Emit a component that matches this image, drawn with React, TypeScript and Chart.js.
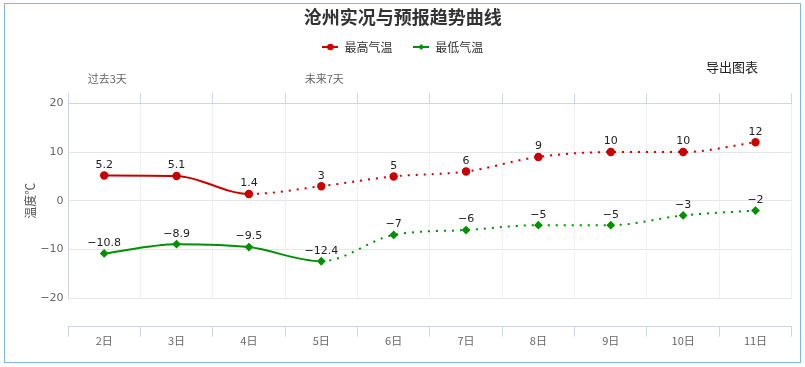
import React, { useEffect, useRef } from "react";
import { Chart, registerables } from "chart.js";

Chart.register(...registerables);

const categories = ["2日", "3日", "4日", "5日", "6日", "7日", "8日", "9日", "10日", "11日"];
const topLabels = ["过去3天", "", "", "未来7天", "", "", "", "", "", ""];
const highTemps = [5.2, 5.1, 1.4, 3, 5, 6, 9, 10, 10, 12];
const lowTemps = [-10.8, -8.9, -9.5, -12.4, -7, -6, -5, -5, -3, -2];
const highObservedCount = 3;
const lowObservedCount = 4;
const yTicks = [-20, -10, 0, 10, 20];

const RED = "#c80000";
const GREEN = "#009000";
const FONT = '"DejaVu Sans", "Noto Sans CJK SC", sans-serif';
const CJK = '"Noto Sans CJK SC", "DejaVu Sans", sans-serif';

const fmt = (v: number) => String(v).replace("-", "\u2212");

function makeIcon(color: string, diamond: boolean) {
  const c = document.createElement("canvas");
  c.width = 16;
  c.height = 10;
  const g = c.getContext("2d")!;
  g.strokeStyle = color;
  g.fillStyle = color;
  g.lineWidth = 2;
  g.beginPath();
  g.moveTo(0, 5);
  g.lineTo(16, 5);
  g.stroke();
  g.beginPath();
  if (diamond) {
    g.moveTo(8, 2);
    g.lineTo(11, 5);
    g.lineTo(8, 8);
    g.lineTo(5, 5);
    g.closePath();
  } else {
    g.arc(8, 5, 3.3, 0, Math.PI * 2);
  }
  g.fill();
  return c;
}

export default function App() {
  const ref = useRef<HTMLCanvasElement | null>(null);
  useEffect(() => {
    const icons = [makeIcon(RED, false), makeIcon(GREEN, true)];
    const framePlugin = {
      id: "frame",
      beforeDraw(chart: any) {
        const { ctx } = chart;
        ctx.save();
        ctx.fillStyle = "#fff";
        ctx.fillRect(0, 0, chart.width, chart.height);
        ctx.strokeStyle = "#85b5e6";
        ctx.lineWidth = 1;
        ctx.strokeRect(4.5, 3.5, 796, 359);
        ctx.fillStyle = "#222";
        ctx.font = "13px " + CJK;
        ctx.textAlign = "center";
        ctx.textBaseline = "middle";
        ctx.fillText("导出图表", 732, 67);
        ctx.restore();
      },
    };
    const labelPlugin = {
      id: "valueLabels",
      afterDatasetsDraw(chart: any) {
        const { ctx } = chart;
        ctx.save();
        ctx.font = "11px " + FONT;
        ctx.fillStyle = "#222";
        ctx.textAlign = "center";
        ctx.textBaseline = "middle";
        chart.data.datasets.forEach((ds: any, di: number) => {
          const meta = chart.getDatasetMeta(di);
          meta.data.forEach((pt: any, i: number) => {
            ctx.fillText(fmt(ds.data[i]), pt.x, pt.y - 10.5);
          });
        });
        ctx.restore();
      },
    };
    const chart = new Chart(ref.current!, {
      type: "line",
      data: {
        labels: categories,
        datasets: [
          {
            label: "最高气温",
            data: highTemps,
            borderColor: RED,
            backgroundColor: RED,
            borderWidth: 2,
            pointRadius: 3.2,
            pointHoverRadius: 3.2,
            pointStyle: "circle",
            cubicInterpolationMode: "monotone",
            segment: {
              borderDash: (c: any) => (c.p0DataIndex >= highObservedCount - 1 ? [2, 6] : undefined),
            },
          },
          {
            label: "最低气温",
            data: lowTemps,
            borderColor: GREEN,
            backgroundColor: GREEN,
            borderWidth: 2,
            pointRadius: 3,
            pointHoverRadius: 3,
            pointStyle: "rectRot",
            cubicInterpolationMode: "monotone",
            segment: {
              borderDash: (c: any) => (c.p0DataIndex >= lowObservedCount - 1 ? [2, 6] : undefined),
            },
          },
        ],
      },
      options: {
        responsive: false,
        animation: false,
        devicePixelRatio: 1,
        layout: { padding: { left: 14, right: 13.3, top: 0, bottom: 0 } },
        plugins: {
          tooltip: { enabled: false },
          title: {
            display: true,
            text: "沧州实况与预报趋势曲线",
            color: "#333",
            font: { family: CJK, size: 18, weight: "bold" },
            padding: { top: 6, bottom: 3.4 },
          },
          legend: {
            display: true,
            position: "top",
            labels: {
              usePointStyle: true,
              pointStyleWidth: 16,
              padding: 10,
              color: "#333",
              font: { family: CJK, size: 12 },
              generateLabels: (ch: any) => {
                const items = (Chart.defaults as any).plugins.legend.labels.generateLabels(ch);
                items.forEach((it: any, i: number) => {
                  it.pointStyle = icons[i];
                  it.lineWidth = 0;
                  if (i === 0) it.text = it.text + "    ";
                });
                return items;
              },
            },
          },
        },
        scales: {
          y: {
            min: -20,
            max: 20,
            afterBuildTicks: (s: any) => {
              s.ticks = yTicks.map((v) => ({ value: v }));
            },
            afterFit: (s: any) => {
              s.width = 54;
            },
            ticks: {
              color: "#666",
              font: { family: FONT, size: 11 },
              padding: 4.5,
              callback: (v: any) => fmt(Number(v)),
            },
            grid: { color: "#e6e6e6", drawTicks: false },
            border: { display: true, color: "#ccd6eb" },
            title: {
              display: true,
              text: "温度℃",
              color: "#555",
              font: { family: CJK, size: 12 },
              padding: { top: 8.8, bottom: 0 },
            },
          },
          x: {
            type: "category",
            position: "bottom",
            weight: 0,
            offset: true,
            grid: { display: true, drawOnChartArea: true, drawTicks: false, color: "#eef0f3", offset: true },
            border: { display: false },
            ticks: { display: false },
            afterFit: (s: any) => {
              s.height = 28.4;
            },
          },
          xb: {
            type: "category",
            position: "bottom",
            weight: 1,
            offset: true,
            labels: categories,
            grid: { display: true, drawOnChartArea: false, drawTicks: true, tickLength: 10, color: "#ccd6eb", offset: true },
            border: { display: true, color: "#ccd6eb" },
            ticks: { color: "#666", font: { family: CJK, size: 11 }, padding: -2.3, maxRotation: 0, autoSkip: false },
            afterFit: (s: any) => {
              s.height = 40.3;
            },
          },
          xt: {
            type: "category",
            position: "top",
            offset: true,
            labels: topLabels,
            grid: { display: true, drawOnChartArea: false, drawTicks: true, tickLength: 10, color: "#ccd6eb", offset: true },
            border: { display: true, color: "#ccd6eb" },
            ticks: { color: "#666", font: { family: CJK, size: 11 }, padding: 7.7, labelOffset: 3, maxRotation: 0, autoSkip: false },
            afterFit: (s: any) => {
              s.height = 40.3;
            },
          },
        },
      } as any,
      plugins: [framePlugin, labelPlugin],
    });
    return () => chart.destroy();
  }, []);
  return (
    <div style={{ position: "absolute", left: 0, top: 0, width: 805, height: 367 }}>
      <canvas ref={ref} width={805} height={367} />
    </div>
  );
}
